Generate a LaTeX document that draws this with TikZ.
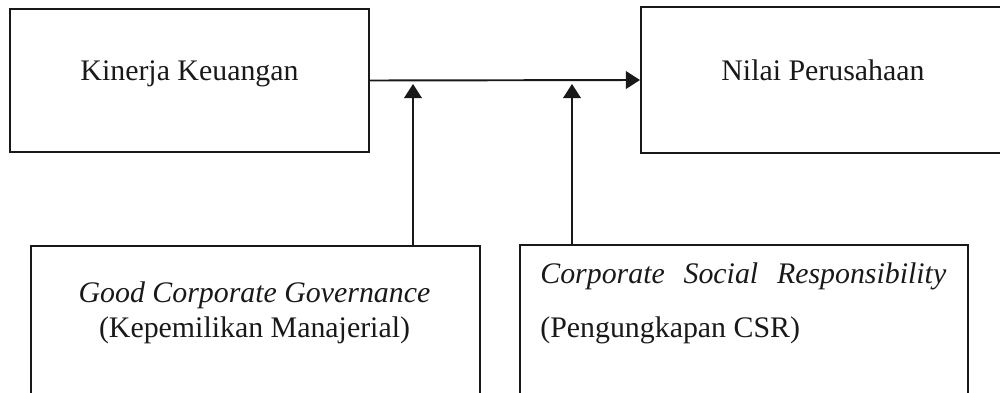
\documentclass[tikz,border=0pt]{standalone}
\usepackage{xcolor}
\usepackage{fontspec}
\setmainfont{Liberation Serif}
\usepackage{tikz}
\usetikzlibrary{arrows.meta, positioning}
\definecolor{mydark}{RGB}{25,25,25}
\tikzset{
  varbox/.style={rectangle, draw=mydark, line width=1.2pt, inner sep=0pt},
  vartext/.style={font=\fontsize{17}{20}\selectfont, inner sep=0pt, text=mydark},
  arrow/.style={-{Triangle[width=10pt,length=8pt]}, line width=1.1pt, color=mydark}
}

\begin{document}
\begin{tikzpicture}[x=0.02cm, y=-0.02cm]
  % Page frame
  \useasboundingbox (0,0) rectangle (1000,392);
  \clip (0,0) rectangle (1000,392);

  % Upper boxes
  \node[varbox, minimum width=7.18cm, minimum height=2.86cm] (kk) at (189.5,80.5) {};
  \node[varbox, minimum width=7.38cm, minimum height=2.92cm] (np) at (825.5,80) {};
  \node[vartext, anchor=base] (kkt) at (189.5,80) {Kinerja Keuangan};
  \node[vartext, anchor=base] (npt) at (823,80) {Nilai Perusahaan};

  % Lower boxes (cut off at the bottom)
  \node[varbox, minimum width=8.98cm, minimum height=3.28cm] (gcg) at (255.5,328) {};
  \node[varbox, minimum width=8.96cm, minimum height=3.3cm] (csr) at (744,327.5) {};
  \node[vartext, anchor=base] (gcgt) at (254.5,302) {\itshape Good Corporate Governance};
  \node[vartext, anchor=base] (gcgs) at (254.5,337) {(Kepemilikan Manajerial)};
  \node[vartext, anchor=base west] (csrt) at (540,283)
    {\hbox to 8.12cm{\itshape Corporate\hfill Social\hfill Responsibility}};
  \node[vartext, anchor=base west] (csrs) at (540,337) {(Pengungkapan CSR)};

  % Main path
  \draw[arrow] (kk.east) -- (np.west);

  % Moderating arrows
  \coordinate (m1) at (413,84);
  \coordinate (m2) at (572,84);
  \draw[arrow] (gcg.north -| m1) -- (m1);
  \draw[arrow] (csr.north -| m2) -- (m2);
\end{tikzpicture}
\end{document}
